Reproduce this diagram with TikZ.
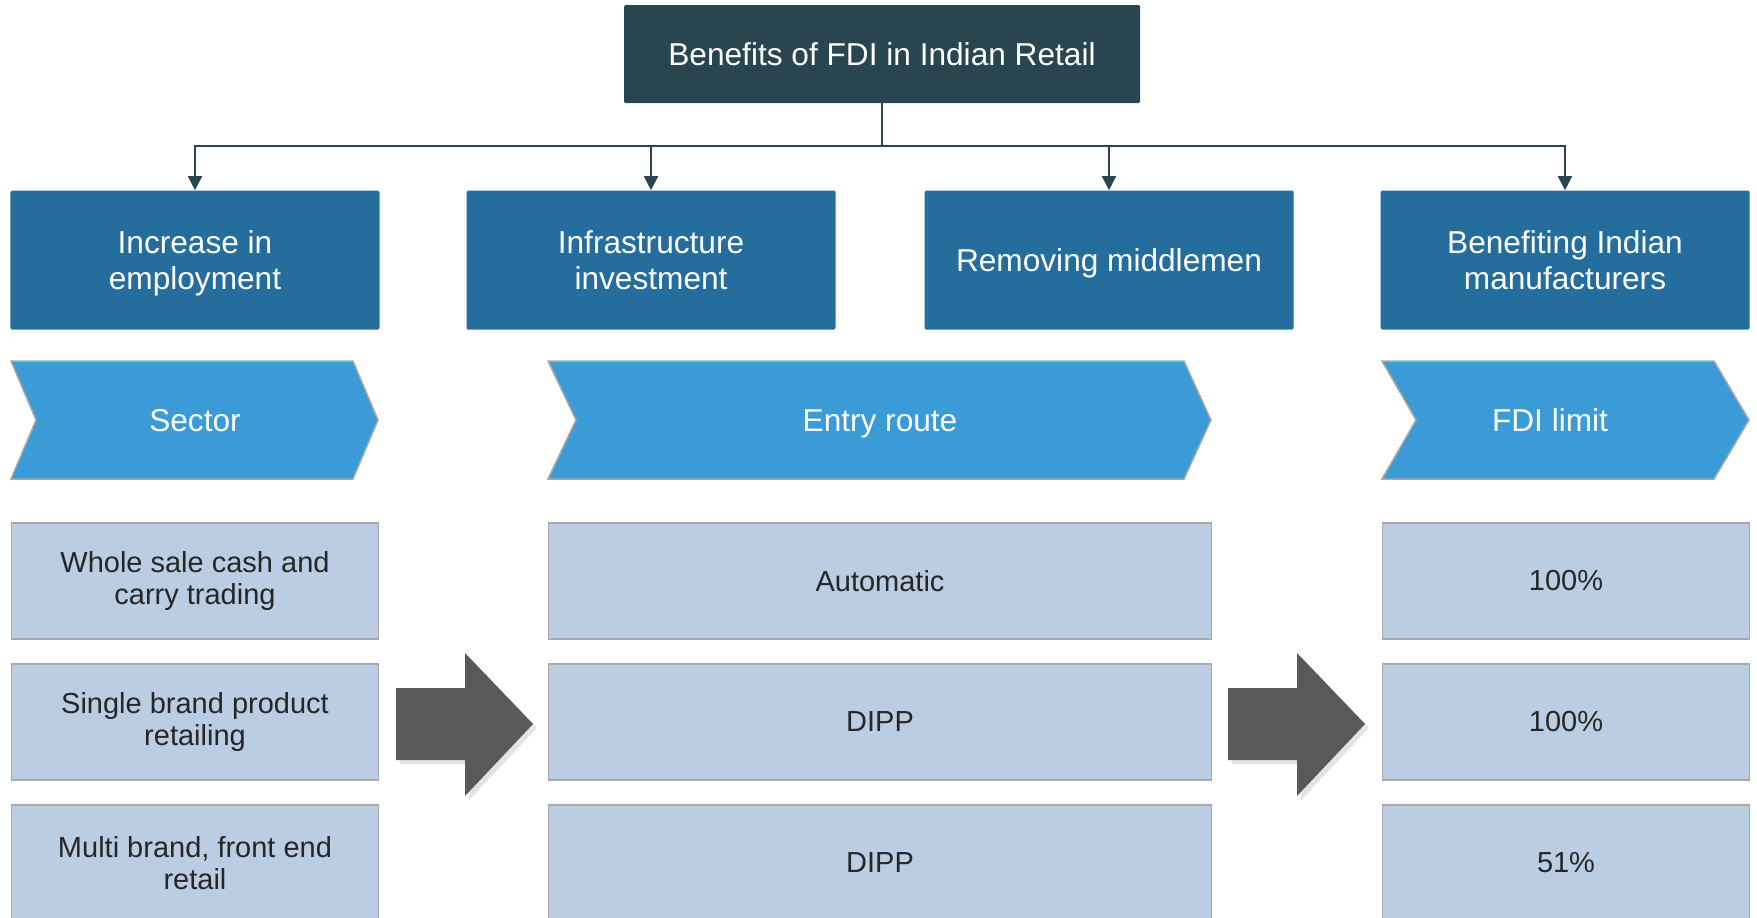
\documentclass[tikz,border=0pt]{standalone}
\usepackage{fontspec}
\setmainfont{Liberation Sans}
\usetikzlibrary{arrows.meta,shadows}
\definecolor{topcol}{HTML}{294650}
\definecolor{bencol}{HTML}{256D9D}
\definecolor{chevcol}{HTML}{3B9BD6}
\definecolor{cellcol}{HTML}{BBCDE2}
\definecolor{edgecol}{HTML}{A8A8A8}
\definecolor{arrowcol}{HTML}{595959}
\definecolor{inkcol}{HTML}{262626}

\begin{document}
\begin{tikzpicture}[x=0.2mm,y=-0.2mm,
	topbox/.style={fill=topcol,text=white,rounded corners=0.3mm,minimum width=103.2mm,minimum height=19.6mm,inner sep=0pt,font=\fontsize{18}{21}\selectfont},
	benefit/.style={fill=bencol,text=white,rounded corners=0.3mm,align=center,minimum width=73.8mm,minimum height=27.8mm,inner sep=0pt,text depth=0pt,font=\fontsize{18}{20.5}\selectfont},
	chev/.style={fill=chevcol,draw=edgecol,line width=0.3mm},
	chevtext/.style={text=white,inner sep=0pt,text height=4.5mm,text depth=0pt,font=\fontsize{18}{22}\selectfont},
	cell/.style={fill=cellcol,draw=edgecol,line width=0.3mm,align=center,minimum height=23.2mm,inner sep=0pt,text=inkcol,font=\fontsize{16.5}{18.5}\selectfont},
	bigarrow/.style={fill=arrowcol,drop shadow={shadow xshift=0.8mm,shadow yshift=-0.8mm,opacity=0.22}},
	link/.style={draw=topcol,line width=0.4mm}]
	\useasboundingbox (0,0) rectangle (1757,917);

	% title and the four benefits
	\node[topbox] (top) at (882,54) {Benefits of FDI in Indian Retail};
	\node[benefit] (ben1) at (195,260) {Increase in\\employment};
	\node[benefit] (ben2) at (651,260) {Infrastructure\\investment};
	\node[benefit] (ben3) at (1109,260) {Removing middlemen};
	\node[benefit] (ben4) at (1565,260) {Benefiting Indian\\manufacturers};
	\coordinate (bus) at (882,146);
	\draw[link] (top.south) -- (bus);
	\foreach \b in {ben1,ben2,ben3,ben4}
		\draw[link,-{Triangle[length=2.8mm,width=2.8mm]}] (bus) -| (\b.north);

	% column heads
	\draw[chev] (11,361) -- (353,361) -- (378,420) -- (353,479) -- (11,479) -- (36,420) -- cycle;
	\draw[chev] (548,361) -- (1184,361) -- (1211,420) -- (1184,479) -- (548,479) -- (576,420) -- cycle;
	\draw[chev] (1382,361) -- (1714,361) -- (1749,420) -- (1714,479) -- (1382,479) -- (1416,420) -- cycle;
	\node[chevtext] (sector) at (195,420) {Sector};
	\node[chevtext] (route) at (880,420) {Entry route};
	\node[chevtext] (limit) at (1550,420) {FDI limit};

	% table cells
	\node[cell,minimum width=73.3mm] (s1) at (195,581) {Whole sale cash and\\carry trading};
	\node[cell,minimum width=73.3mm] (s2) at (195,722) {Single brand product\\retailing};
	\node[cell,minimum width=73.3mm] (s3) at (195,863) {Multi brand, front end\\retail};
	\node[cell,minimum width=132.6mm] (r1) at (880,581) {Automatic};
	\node[cell,minimum width=132.6mm] (r2) at (880,722) {DIPP};
	\node[cell,minimum width=132.6mm] (r3) at (880,863) {DIPP};
	\node[cell,minimum width=73.4mm] (l1) at (1566,581) {100\%};
	\node[cell,minimum width=73.4mm] (l2) at (1566,722) {100\%};
	\node[cell,minimum width=73.4mm] (l3) at (1566,863) {51\%};

	% block arrows
	\fill[bigarrow] (396,688) -- (465,688) -- (465,653) -- (533,724) -- (465,796) -- (465,760) -- (396,760) -- cycle;
	\fill[bigarrow] (1228,688) -- (1297,688) -- (1297,653) -- (1365,724) -- (1297,796) -- (1297,760) -- (1228,760) -- cycle;
\end{tikzpicture}
\end{document}
